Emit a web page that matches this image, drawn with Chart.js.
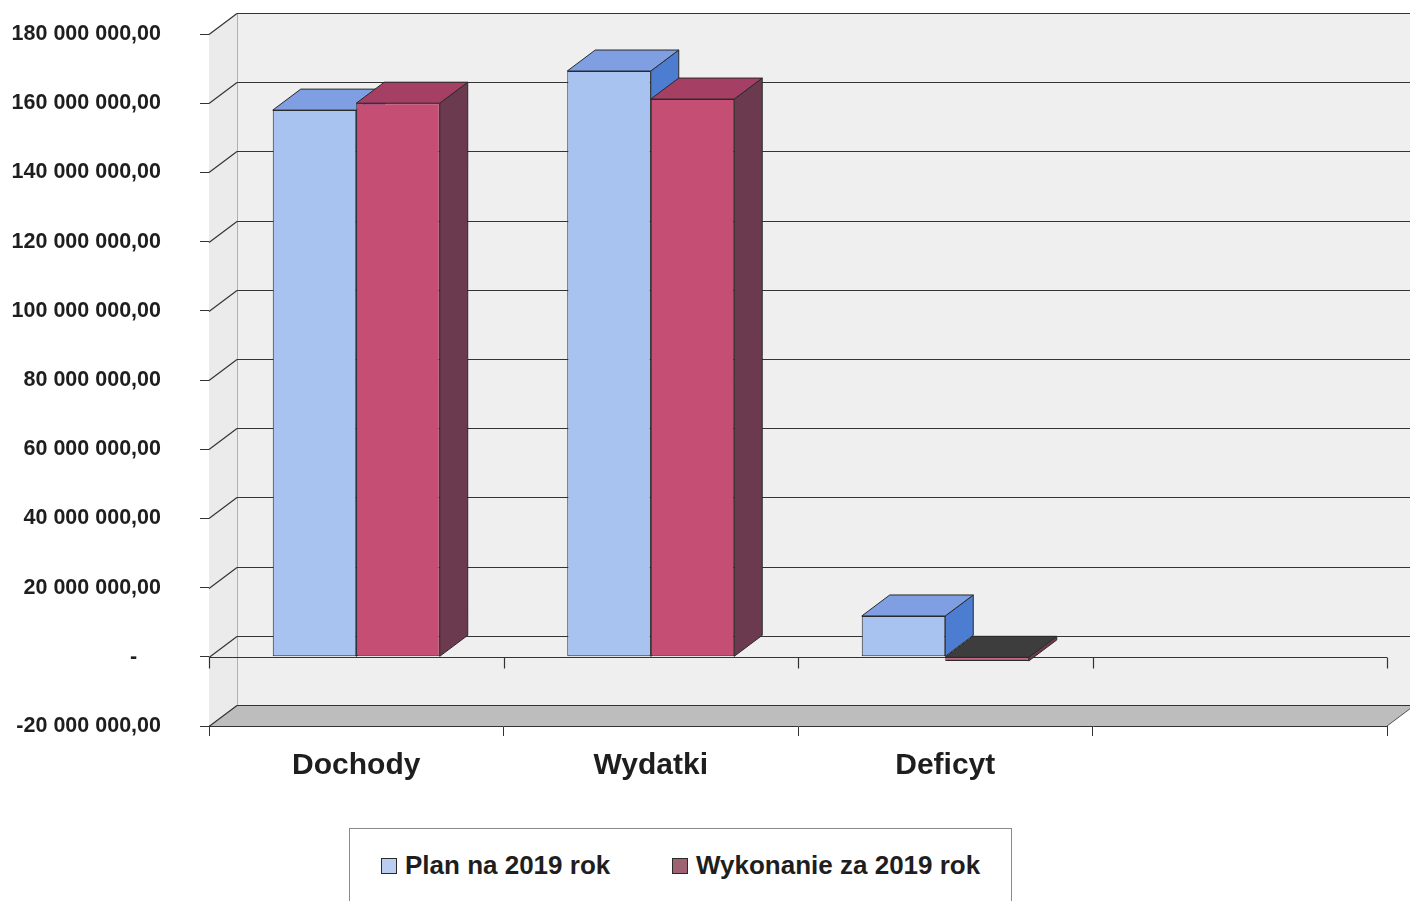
<!DOCTYPE html>
<html>
<head>
<meta charset="utf-8">
<script src="https://cdn.jsdelivr.net/npm/chart.js@4"></script>
<style>
  html, body { margin: 0; padding: 0; background: #fff; overflow: hidden; }
  #wrap { position: relative; width: 1410px; height: 901px; }
  #legend {
    position: absolute; left: 349px; top: 828px; width: 663px; height: 100px;
    border: 1px solid #8a8a8a; background: #fff; box-sizing: border-box;
    font-family: "Liberation Sans", Arial, sans-serif; font-weight: bold; font-size: 26px; color: #1e1e1e;
  }
  .item { position: absolute; top: 21px; display: flex; align-items: center; white-space: nowrap; }
  .mark { width: 14px; height: 14px; border: 1px solid #2a2a2a; margin-right: 8px; }
</style>
</head>
<body>
<div id="wrap">
  <canvas id="chart" width="1410" height="901"></canvas>
  <div id="legend"></div>
</div>
<script>
// Chart data
const categories = ['Dochody', 'Wydatki', 'Deficyt', ''];
const planValues = [158.0e6, 169.3e6, 11.8e6, null];
const executedValues = [160.0e6, 161.2e6, -1.2e6, null];
const seriesNames = ['Plan na 2019 rok', 'Wykonanie za 2019 rok'];
const yMin = -20e6;
const yMax = 180e6;
const yStep = 20e6;

// 3D look: depth offset and face colours per series
const depth = { dx: 28, dy: -21 };
const faces = [
    { front: '#a9c3f0', top: '#7f9fe2', side: '#4d7dd0', legend: '#bccdf2' },
    { front: '#c54e74', top: '#a53f63', side: '#6c3a4e', legend: '#9e6272' }
];
const negativeTop = '#3d3d3d';
const edge = '#2a2a2a';

// 180000000 -> "180 000 000,00", zero -> "-"
const formatTick = (v) => {
    if (v === 0) return '-    ';
    const digits = String(Math.round(Math.abs(v)));
    const grouped = digits.replace(/\B(?=(\d{3})+(?!\d))/g, ' ');
    return (v < 0 ? '-' : '') + grouped + ',00';
};

const poly = (ctx, pts, fill, stroke) => {
    ctx.beginPath();
    ctx.moveTo(pts[0][0], pts[0][1]);
    pts.slice(1).forEach(p => ctx.lineTo(p[0], p[1]));
    ctx.closePath();
    if (fill) { ctx.fillStyle = fill; ctx.fill(); }
    if (stroke) { ctx.strokeStyle = stroke; ctx.lineWidth = 1; ctx.stroke(); }
};

const line = (ctx, x1, y1, x2, y2, color, w) => {
    ctx.beginPath();
    ctx.moveTo(x1, y1);
    ctx.lineTo(x2, y2);
    ctx.strokeStyle = color;
    ctx.lineWidth = w || 1;
    ctx.stroke();
};

// walls, floor, gridlines and the top/side faces of every bar
const box3d = {
    id: 'box3d',
    beforeDatasetsDraw(chart) {
        const { ctx, chartArea: a, scales: { x, y } } = chart;
        const { dx, dy } = depth;
        ctx.save();

        // back wall + left wall
        ctx.fillStyle = '#efefef';
        ctx.fillRect(a.left + dx, a.top + dy, chart.width - a.left - dx, a.bottom - a.top);
        poly(ctx, [[a.left, a.top], [a.left + dx, a.top + dy], [a.left + dx, a.bottom + dy], [a.left, a.bottom]], '#ebebeb', null);
        line(ctx, a.left + dx + 0.5, a.top + dy, a.left + dx + 0.5, a.bottom + dy, '#b0b0b0');
        line(ctx, a.left + dx, a.top + dy + 0.5, chart.width, a.top + dy + 0.5, '#c8c8c8');

        // floor at the axis minimum
        poly(ctx, [[a.left, a.bottom], [a.right, a.bottom], [a.right + dx, a.bottom + dy], [a.left + dx, a.bottom + dy]], '#bdbdbd', null);
        line(ctx, a.right, a.bottom, a.right + dx, a.bottom + dy, '#555');

        // gridlines on the side and back walls
        y.ticks.forEach(t => {
            const py = Math.round(y.getPixelForValue(t.value)) + 0.5;
            line(ctx, a.left, py, a.left + dx, py + dy, '#333', 1.2);
            line(ctx, a.left + dx, py + dy, chart.width, py + dy, '#333', 1.2);
        });

        // category axis crossing at zero, with its ticks
        const y0 = Math.round(y.getPixelForValue(0)) + 0.5;
        line(ctx, a.left, y0, a.right, y0, '#333', 1.2);
        for (let i = 0; i <= categories.length; i++) {
            const px = Math.round(x.getPixelForValue(i - 0.5)) + 0.5;
            line(ctx, px, y0, px, y0 + 11, '#333', 1.2);
        }

        // top and right side faces, category by category so neighbours overlap correctly
        const series = [planValues, executedValues];
        categories.forEach((c, i) => {
            series.forEach((values, j) => {
                const v = values[i];
                if (v === null || v === undefined) return;
                const el = chart.getDatasetMeta(j).data[i];
                const p = el.getProps(['x', 'y', 'base', 'width'], true);
                const left = p.x - p.width / 2;
                const right = p.x + p.width / 2;
                const topY = Math.min(p.y, p.base);
                const botY = Math.max(p.y, p.base);
                poly(ctx, [[right, topY], [right + dx, topY + dy], [right + dx, botY + dy], [right, botY]], faces[j].side, edge);
                poly(ctx, [[left, topY], [right, topY], [right + dx, topY + dy], [left + dx, topY + dy]], v < 0 ? negativeTop : faces[j].top, edge);
            });
        });
        ctx.restore();
    }
};

const ctx = document.getElementById('chart').getContext('2d');
new Chart(ctx, {
    type: 'bar',
    data: {
        labels: categories,
        datasets: [planValues, executedValues].map((values, j) => ({
            label: seriesNames[j],
            data: values,
            backgroundColor: faces[j].front,
            borderColor: edge,
            borderWidth: 1,
            borderSkipped: false,
            categoryPercentage: 0.567,
            barPercentage: 1.0
        }))
    },
    options: {
        responsive: false,
        animation: false,
        devicePixelRatio: 1,
        layout: { padding: { top: 34, right: 23, bottom: 115, left: 0 } },
        plugins: {
            legend: { display: false },
            tooltip: { enabled: false }
        },
        scales: {
            x: {
                grid: { drawOnChartArea: false, tickLength: 10, color: '#333', offset: true },
                border: { color: '#333' },
                ticks: {
                    font: { family: '"Liberation Sans", Arial, sans-serif', size: 30, weight: 'bold' },
                    color: '#1e1e1e',
                    padding: 12,
                    maxRotation: 0,
                    autoSkip: false
                },
                afterFit(s) { s.height = 60; }
            },
            y: {
                min: yMin,
                max: yMax,
                grid: { drawOnChartArea: false, tickLength: 9, color: '#333' },
                border: { color: '#333' },
                ticks: {
                    stepSize: yStep,
                    callback: formatTick,
                    font: { family: '"Liberation Sans", Arial, sans-serif', size: 21.5, weight: 'bold' },
                    color: '#1e1e1e',
                    padding: 39
                },
                // fixed axis width; label padding must not push the plot down
                afterFit(s) { s.width = 209; s.paddingTop = 0; s.paddingBottom = 0; }
            }
        }
    },
    plugins: [box3d]
});

// legend box below the chart
const legendEl = document.getElementById('legend');
const legendLeft = [31, 322];
seriesNames.forEach((name, j) => {
    const item = document.createElement('div');
    item.className = 'item';
    item.style.left = legendLeft[j] + 'px';
    item.innerHTML = `<span class="mark" style="background:${faces[j].legend}"></span><span>${name}</span>`;
    legendEl.appendChild(item);
});
</script>
</body>
</html>
